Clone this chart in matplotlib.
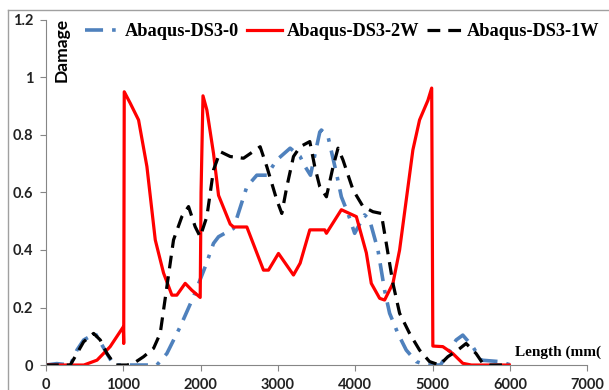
import matplotlib
matplotlib.use("Agg")
import matplotlib.pyplot as plt
from matplotlib.lines import Line2D

# Abaqus-DS3-0 (blue dash-dot)
x0 = [0, 140, 314, 400, 487, 637, 788, 874, 1434, 1563, 1735, 1908, 2059, 2166, 2231, 2425,
      2597, 2726, 2855, 2984, 3157, 3286, 3350, 3420, 3540, 3561, 3647, 3755, 3819, 3905, 3991,
      4120, 4185, 4292, 4378, 4443, 4550, 4658, 4787, 4916, 5100, 5196, 5303, 5389, 5518, 5626,
      5862, 6013]
y0 = [0, 0.005, 0, 0.052, 0.087, 0.11, 0.04, 0, 0, 0.04, 0.133, 0.238, 0.342, 0.423, 0.446, 0.475,
      0.62, 0.66, 0.66, 0.713, 0.754, 0.725, 0.69, 0.66, 0.81, 0.817, 0.794, 0.667, 0.585, 0.527, 0.458,
      0.522, 0.504, 0.4, 0.26, 0.18, 0.11, 0.052, 0.012, 0, 0, 0.04, 0.087, 0.104, 0.064, 0.017,
      0.012, 0]

# Abaqus-DS3-2W (red solid)
x2 = [0, 490, 660, 830, 1000, 1005, 1012, 1090, 1197, 1305, 1413, 1520, 1628, 1692, 1800, 1886,
      1994, 2005, 2030, 2080, 2166, 2231, 2382, 2425, 2597, 2812, 2877, 3006, 3200, 3286, 3411,
      3604, 3626, 3819, 4013, 4142, 4206, 4314, 4378, 4486, 4572, 4658, 4744, 4830, 4938, 4987,
      5002, 5131, 5260, 5389, 5500, 5991]
y2 = [0, 0, 0.017, 0.064, 0.133, 0.075, 0.95, 0.91, 0.852, 0.69, 0.435, 0.32, 0.243, 0.243, 0.284, 0.26,
      0.235, 0.6, 0.936, 0.887, 0.736, 0.59, 0.49, 0.48, 0.48, 0.33, 0.33, 0.388, 0.313, 0.354, 0.47,
      0.47, 0.458, 0.54, 0.516, 0.39, 0.284, 0.232, 0.226, 0.284, 0.4, 0.574, 0.748, 0.852, 0.92, 0.963,
      0.066, 0.064, 0.04, 0.006, 0, 0]

# Abaqus-DS3-1W (black dashed)
x1 = [0, 314, 400, 487, 616, 702, 788, 896, 1046, 1133, 1262, 1391, 1477, 1563, 1649, 1757, 1843,
      1929, 1994, 2080, 2166, 2252, 2382, 2554, 2769, 2855, 2984, 3049, 3114, 3200, 3286, 3411,
      3475, 3540, 3626, 3712, 3776, 3840, 3970, 4099, 4228, 4335, 4400, 4486, 4572, 4701, 4830,
      4959, 5088, 5196, 5325, 5432, 5561, 5647, 5733, 5991]
y1 = [0, 0, 0.04, 0.081, 0.11, 0.087, 0.04, 0, 0, 0.006, 0.029, 0.058, 0.11, 0.272, 0.435, 0.516, 0.551,
      0.481, 0.446, 0.516, 0.678, 0.742, 0.725, 0.719, 0.759, 0.69, 0.574, 0.527, 0.62, 0.725, 0.759, 0.777,
      0.69, 0.62, 0.585, 0.69, 0.754, 0.713, 0.609, 0.551, 0.533, 0.527, 0.423, 0.284, 0.18, 0.11, 0.052,
      0.012, 0, 0.029, 0.052, 0.075, 0.04, 0.006, 0, 0]

xticks = [0, 1000, 2000, 3000, 4000, 5000, 6000, 7000]
yticks = [0, 0.2, 0.4, 0.6, 0.8, 1.0, 1.2]
yticklabels = ["0", "0.2", "0.4", "0.6", "0.8", "1", "1.2"]

fig = plt.figure(figsize=(6.09, 3.9), dpi=100)
ax = fig.add_axes([0.0755, 0.064, 0.889, 0.885])

ax.plot(x0, y0, color="#4F81BD", lw=2.6, dashes=(5, 2.5, 1, 2.5), label="Abaqus-DS3-0")
ax.plot(x2, y2, color="#FF0000", lw=2.3, label="Abaqus-DS3-2W")
ax.plot(x1, y1, color="black", lw=2.3, dashes=(4, 2.5), label="Abaqus-DS3-1W")

ax.set_xlim(0, 7000)
ax.set_ylim(0, 1.2)
ax.set_xticks(xticks)
ax.set_yticks(yticks)
ax.set_yticklabels(yticklabels)
for s in ["top", "right"]:
    ax.spines[s].set_visible(False)
for s in ["left", "bottom"]:
    ax.spines[s].set_color("#868686")
ax.tick_params(length=4, color="#868686", labelsize=10.5, labelcolor="#222222")
ax.tick_params(axis="x", pad=5)
ax.tick_params(axis="y", pad=5)
for lab in ax.get_xticklabels() + ax.get_yticklabels():
    lab.set_fontfamily("Lato")
    lab.set_fontweight("bold")

ax.text(0.0296, 0.912, "Damage", transform=ax.transAxes, rotation=90, fontsize=12.6,
        fontweight="bold", family="Lato", ha="center", va="center")
fig.text(0.845, 0.0974, "Length (mm(", fontsize=11, fontweight="bold", family="Liberation Serif",
         ha="left", va="center")

fig.legend(loc="center left", bbox_to_anchor=(0.14, 0.918), ncol=3, frameon=False,
           prop={"family": "Liberation Serif", "weight": "bold", "size": 13.2},
           handlelength=1.9, handletextpad=0.25, columnspacing=0.45, borderaxespad=0, borderpad=0)

# cropped outer frame (only top and left edges visible)
fig.add_artist(Line2D([8 / 609, 1], [1 - 10 / 390] * 2, transform=fig.transFigure, color="#A0A0A0", lw=1))
fig.add_artist(Line2D([8 / 609] * 2, [0, 1 - 10 / 390], transform=fig.transFigure, color="#A0A0A0", lw=1))

plt.savefig("out.png", dpi=100)
